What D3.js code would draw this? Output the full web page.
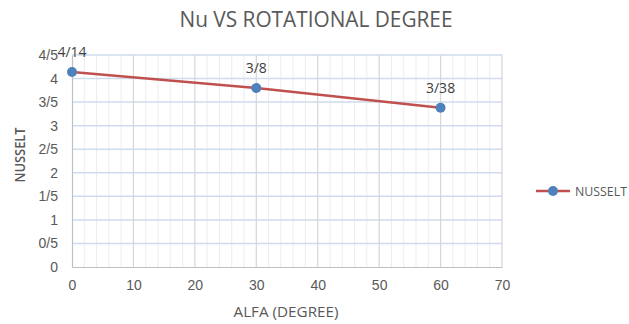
<!DOCTYPE html>
<html>
<head>
<meta charset="utf-8">
<script src="https://cdn.jsdelivr.net/npm/d3@7"></script>
<style>
  html, body { margin: 0; padding: 0; background: #fff; }
  svg { display: block; font-family: "Open Sans", "Noto Sans", sans-serif; }
</style>
</head>
<body>
<svg id="chart" width="629" height="324"></svg>
<script>
// Nusselt number against rotation angle
const alfa = [0, 30, 60];
const nusselt = [4.14, 3.8, 3.38];
const pointLabels = ["4/14", "3/8", "3/38"];
const xTicks = [0, 10, 20, 30, 40, 50, 60, 70];
const yTicks = [0, 0.5, 1, 1.5, 2, 2.5, 3, 3.5, 4, 4.5];
const yTickLabels = ["0", "0/5", "1", "1/5", "2", "2/5", "3", "3/5", "4", "4/5"];
const seriesName = "NUSSELT";

const svg = d3.select("#chart");
const margin = { left: 72, right: 127, top: 55, bottom: 57 };
const W = 629, H = 324;

const x = d3.scaleLinear().domain([0, 70]).range([margin.left, W - margin.right]);
const y = d3.scaleLinear().domain([0, 4.5]).range([H - margin.bottom, margin.top]);

const grid = svg.append("g");
// minor vertical gridlines every 2
grid.selectAll("line.vminor")
  .data(d3.range(0, 70.001, 2).filter(v => v % 10 !== 0))
  .join("line")
  .attr("x1", d => x(d)).attr("x2", d => x(d))
  .attr("y1", y(0)).attr("y2", y(4.5))
  .attr("stroke", "#ececec").attr("stroke-width", 1);
// horizontal gridlines
grid.selectAll("line.h")
  .data(yTicks.filter(v => v > 0))
  .join("line")
  .attr("x1", x(0)).attr("x2", x(70))
  .attr("y1", d => y(d)).attr("y2", d => y(d))
  .attr("stroke", "#cfdcee").attr("stroke-width", 1.5);
// major vertical gridlines
grid.selectAll("line.vmajor")
  .data(xTicks.filter(v => v > 0))
  .join("line")
  .attr("x1", d => x(d)).attr("x2", d => x(d))
  .attr("y1", y(0)).attr("y2", y(4.5))
  .attr("stroke", "#d6d6d6").attr("stroke-width", 1.2);

// axes
const xAxis = d3.axisBottom(x).tickValues(xTicks).tickSize(0).tickPadding(13);
const gx = svg.append("g").attr("transform", `translate(0,${y(0)})`).call(xAxis);
gx.select(".domain").attr("stroke", "#bfbfbf").attr("stroke-width", 1.2);
gx.selectAll("text").attr("fill", "#595959").style("font-size", "14px");

const yAxis = d3.axisLeft(y).tickValues(yTicks).tickSize(0).tickPadding(14)
  .tickFormat((d, i) => yTickLabels[i]);
const gy = svg.append("g").attr("transform", `translate(${x(0)},0)`).call(yAxis);
gy.select(".domain").attr("stroke", "#bfbfbf").attr("stroke-width", 1.2);
gy.selectAll("text").attr("fill", "#595959").style("font-size", "14px");

// series
const pts = alfa.map((a, i) => ({ a, n: nusselt[i], label: pointLabels[i] }));
svg.append("path")
  .datum(pts)
  .attr("fill", "none")
  .attr("stroke", "#c0504d")
  .attr("stroke-width", 2.5)
  .attr("d", d3.line().x(d => x(d.a)).y(d => y(d.n)));
svg.selectAll("circle.pt")
  .data(pts)
  .join("circle")
  .attr("cx", d => x(d.a)).attr("cy", d => y(d.n)).attr("r", 5)
  .attr("fill", "#4f81bd");
svg.selectAll("text.lbl")
  .data(pts)
  .join("text")
  .attr("x", d => x(d.a)).attr("y", d => y(d.n) - 15)
  .attr("text-anchor", "middle")
  .attr("fill", "#404040")
  .style("font-size", "14px")
  .text(d => d.label);

// title
svg.append("text")
  .attr("x", 316).attr("y", 27)
  .attr("text-anchor", "middle")
  .attr("fill", "#595959")
  .style("font-size", "21px")
  .attr("textLength", 273).attr("lengthAdjust", "spacingAndGlyphs")
  .text("Nu VS ROTATIONAL DEGREE");

// axis titles
svg.append("text")
  .attr("x", 286).attr("y", 317)
  .attr("text-anchor", "middle")
  .attr("fill", "#595959")
  .style("font-size", "15px")
  .attr("textLength", 105).attr("lengthAdjust", "spacingAndGlyphs")
  .text("ALFA (DEGREE)");
svg.append("text")
  .attr("transform", `translate(25,155) rotate(-90)`)
  .attr("text-anchor", "middle")
  .attr("fill", "#595959")
  .style("font-size", "14px")
  .style("font-weight", "600")
  .attr("textLength", 55).attr("lengthAdjust", "spacingAndGlyphs")
  .text(seriesName);

// legend
const lg = svg.append("g").attr("transform", "translate(536,191)");
lg.append("line").attr("x1", 0).attr("x2", 34).attr("y1", 0).attr("y2", 0)
  .attr("stroke", "#c0504d").attr("stroke-width", 2.5);
lg.append("circle").attr("cx", 17).attr("cy", 0).attr("r", 5).attr("fill", "#4f81bd");
lg.append("text").attr("x", 39).attr("y", 5)
  .attr("fill", "#595959").style("font-size", "13px")
  .attr("textLength", 52).attr("lengthAdjust", "spacingAndGlyphs")
  .text(seriesName);
</script>
</body>
</html>
